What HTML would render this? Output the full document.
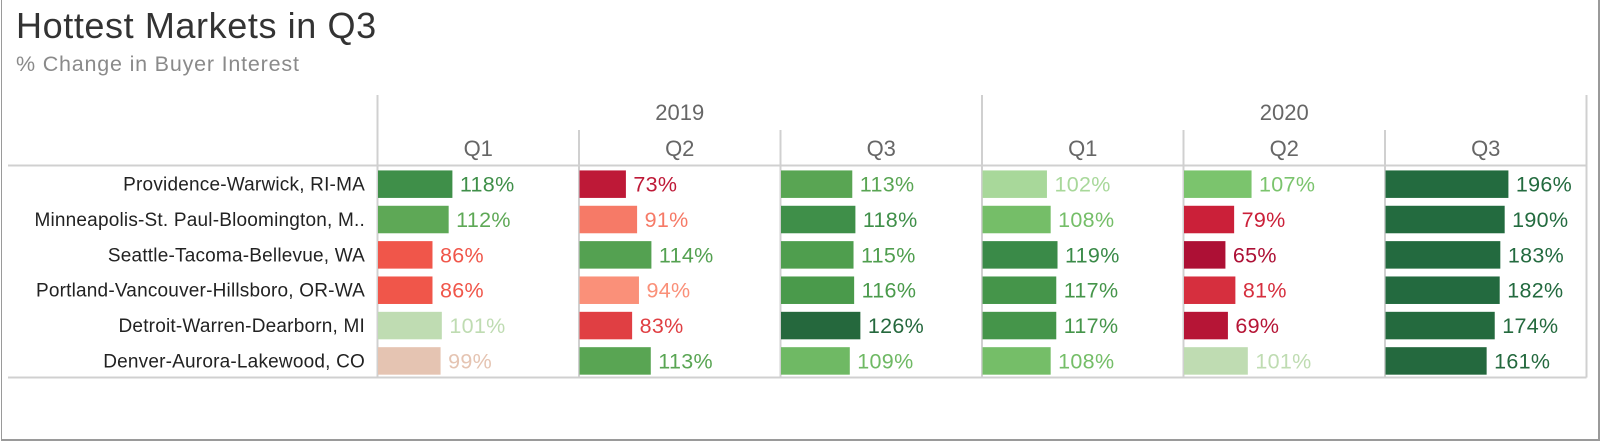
<!DOCTYPE html>
<html><head><meta charset="utf-8">
<style>
html,body{margin:0;padding:0;background:#fff;}
body{width:1600px;height:441px;overflow:hidden;font-family:"Liberation Sans",sans-serif;}
#frame{position:absolute;left:1px;top:0;width:1599px;height:441px;border-right:2px solid #9a9a9a;border-bottom:2px solid #9a9a9a;border-left:1px solid #9a9a9a;box-sizing:border-box;}
</style></head>
<body>
<div id="frame"></div>
<svg id="chart" width="1600" height="441" style="position:absolute;left:0;top:0"></svg>
<script>
const markets=["Providence-Warwick, RI-MA","Minneapolis-St. Paul-Bloomington, M..","Seattle-Tacoma-Bellevue, WA","Portland-Vancouver-Hillsboro, OR-WA","Detroit-Warren-Dearborn, MI","Denver-Aurora-Lakewood, CO"];
const years=["2019","2020"];
const quarters=["Q1","Q2","Q3"];
const v2019q1=[118,112,86,86,101,99];
const v2019q2=[73,91,114,94,83,113];
const v2019q3=[113,118,115,116,126,109];
const v2020q1=[102,108,119,117,117,108];
const v2020q2=[107,79,65,81,69,101];
const v2020q3=[196,190,183,182,174,161];
const series=[v2019q1,v2019q2,v2019q3,v2020q1,v2020q2,v2020q3];

const NS="http://www.w3.org/2000/svg";
const svg=document.getElementById('chart');
function mk(t,a,txt){const e=document.createElementNS(NS,t);for(const k in a)e.setAttribute(k,a[k]);if(txt!==undefined)e.textContent=txt;svg.appendChild(e);return e;}
const x0=377.5,colW=201.5,topY=165.5,rowH=35.35,barH=26.5,botY=377.5;
const xScale=v=>v*0.622;
const stops=[[65,[173,16,53]],[79,[203,32,57]],[86,[240,86,74]],[94,[250,144,121]],[99,[229,196,178]],[101,[191,220,178]],[102,[168,216,154]],[107,[123,196,109]],[112,[94,168,86]],[116,[74,154,75]],[119,[58,138,72]],[126,[37,104,61]],[200,[35,107,63]]];
function color(v){if(v<=stops[0][0])return 'rgb('+stops[0][1].join(',')+')';for(let i=1;i<stops.length;i++){if(v<=stops[i][0]){const a=stops[i-1][0],ca=stops[i-1][1],b=stops[i][0],cb=stops[i][1];const t=(v-a)/(b-a);return 'rgb('+ca.map((c,j)=>Math.round(c+(cb[j]-c)*t)).join(',')+')';}}return 'rgb('+stops[stops.length-1][1].join(',')+')';}

let e;
e=mk('text',{x:16,y:38,'font-size':36,fill:'#333','letter-spacing':0.6},'Hottest Markets in Q3');


e=mk('text',{x:16,y:71,'font-size':21.5,fill:'#8a8a8a','letter-spacing':0.8},'% Change in Buyer Interest');



const gl='#d0d0d0';
mk('line',{x1:8,y1:topY,x2:x0+6*colW,y2:topY,stroke:gl,'stroke-width':2});
mk('line',{x1:8,y1:botY,x2:x0+6*colW,y2:botY,stroke:gl,'stroke-width':2});
for(let c=0;c<=6;c++){const x=x0+c*colW;mk('line',{x1:x,y1:(c%3==0)?95:130,x2:x,y2:botY,stroke:gl,'stroke-width':2});}

years.forEach((y,i)=>{e=mk('text',{x:x0+(i*3+1.5)*colW,y:120,'font-size':22,fill:'#666','text-anchor':'middle'},y);


quarters.forEach((q,j)=>{e=mk('text',{x:x0+(i*3+j+0.5)*colW,y:156,'font-size':22,fill:'#666','text-anchor':'middle'},q);

});});

markets.forEach((m,r)=>{const cy=topY+rowH*(r+0.5)+1;
e=mk('text',{x:365,y:cy+6.5,'font-size':19,fill:'#222','text-anchor':'end','letter-spacing':0.2},m);


series.forEach((s,c)=>{const v=s[r];const bx=x0+c*colW+1;const w=xScale(v);const col=color(v);
e=mk('rect',{x:bx,y:cy-barH/2,width:w,height:barH,fill:col,stroke:col,'stroke-width':1});


e=mk('text',{x:bx+w+8,y:cy+7.5,'font-size':21.5,fill:col,'letter-spacing':0.3},v+'%');

});});
</script>
</body></html>
